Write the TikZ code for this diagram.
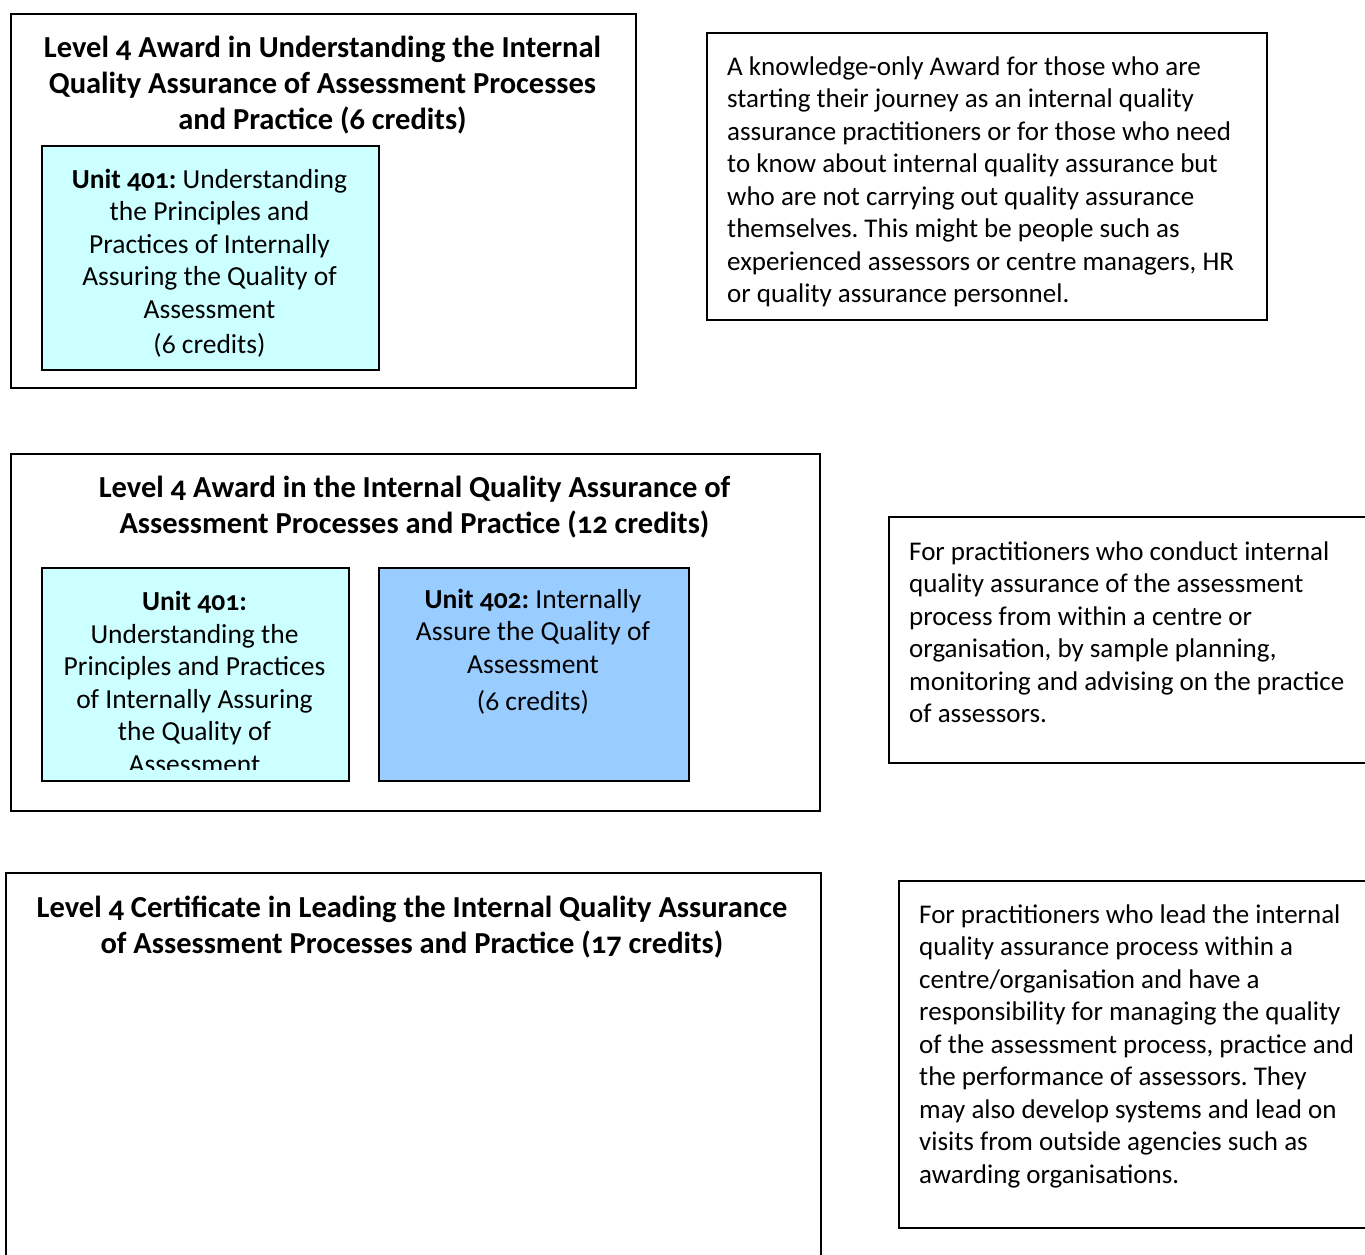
\documentclass[tikz,border=0pt]{standalone}
\usepackage{fontspec}
\setmainfont{Carlito}[Numbers=OldStyle]
\usetikzlibrary{positioning}
\definecolor{unitcyan}{HTML}{CCFFFF}
\definecolor{unitblue}{HTML}{99CCFF}
\frenchspacing

\begin{document}
\begin{tikzpicture}[x=1pt, y=-1pt]

  % Define styles for boxes and texts
  \tikzstyle{frame} = [rectangle, draw, line width=1.8pt, anchor=north west, inner sep=0pt]
  \tikzstyle{unitlight} = [frame, fill=unitcyan]
  \tikzstyle{unitdark} = [frame, fill=unitblue]
  \tikzstyle{title} = [align=center, anchor=base, inner sep=0pt, font=\bfseries\fontsize{30.5}{36}\selectfont]
  \tikzstyle{body} = [align=left, anchor=base west, inner sep=0pt, font=\fontsize{27}{32.5}\selectfont]
  \tikzstyle{unittext} = [align=center, anchor=base, inner sep=0pt, font=\fontsize{27.5}{32.5}\selectfont]

  \useasboundingbox (0,0) rectangle (1365,1254);
  \clip (0,0) rectangle (1365,1254);

  % Award (6 credits)
  \node[frame, minimum width=625, minimum height=374] (awardA) at (10,13) {};
  \node[title] (awardAtitle) at (322.5,129) {Level 4 Award in Understanding the Internal\\Quality Assurance of Assessment Processes\\and Practice (6 credits)};
  \node[unitlight, minimum width=337, minimum height=224] (unitA) at (41,145) {};
  \node[unittext] (unitAtext) at (209.5,353) {\textbf{Unit 401:} Understanding\\the Principles and\\Practices of Internally\\Assuring the Quality of\\Assessment\\[2.5pt](6 credits)};
  \node[frame, minimum width=560, minimum height=287] (descA) at (706,32) {};
  \node[body] (descAtext) at (727,302.5) {A knowledge-only Award for those who are\\starting their journey as an internal quality\\assurance practitioners or for those who need\\to know about internal quality assurance but\\who are not carrying out quality assurance\\themselves. This might be people such as\\experienced assessors or centre managers, HR\\or quality assurance personnel.};

  % Award (12 credits)
  \node[frame, minimum width=809, minimum height=357] (awardB) at (10,453) {};
  \node[title] (awardBtitle) at (414.5,533) {Level 4 Award in the Internal Quality Assurance of\\Assessment Processes and Practice (12 credits)};
  \node[unitlight, minimum width=307, minimum height=213] (unitB) at (41,567) {};
  \begin{scope}
    \clip (41,567) rectangle (348,769);
    \node[unittext] (unitBtext) at (194.5,773) {\textbf{Unit 401:}\\Understanding the\\Principles and Practices\\of Internally Assuring\\the Quality of\\Assessment};
  \end{scope}
  \node[unitdark, minimum width=310, minimum height=213] (unitC) at (378,567) {};
  \node[unittext] (unitCtext) at (533,710) {\textbf{Unit 402:} Internally\\Assure the Quality of\\Assessment\\[4.5pt](6 credits)};
  \node[frame, minimum width=500, minimum height=246] (descB) at (888,516) {};
  \node[body] (descBtext) at (909,722.5) {For practitioners who conduct internal\\quality assurance of the assessment\\process from within a centre or\\organisation, by sample planning,\\monitoring and advising on the practice\\of assessors.};

  % Certificate (17 credits)
  \node[frame, minimum width=815, minimum height=400] (certC) at (5,872) {};
  \node[title] (certCtitle) at (412,953) {Level 4 Certificate in Leading the Internal Quality Assurance\\of Assessment Processes and Practice (17 credits)};
  \node[frame, minimum width=490, minimum height=347] (descC) at (898,880) {};
  \node[body] (descCtext) at (919,1183) {For practitioners who lead the internal\\quality assurance process within a\\centre/organisation and have a\\responsibility for managing the quality\\of the assessment process, practice and\\the performance of assessors. They\\may also develop systems and lead on\\visits from outside agencies such as\\awarding organisations.};

\end{tikzpicture}
\end{document}
